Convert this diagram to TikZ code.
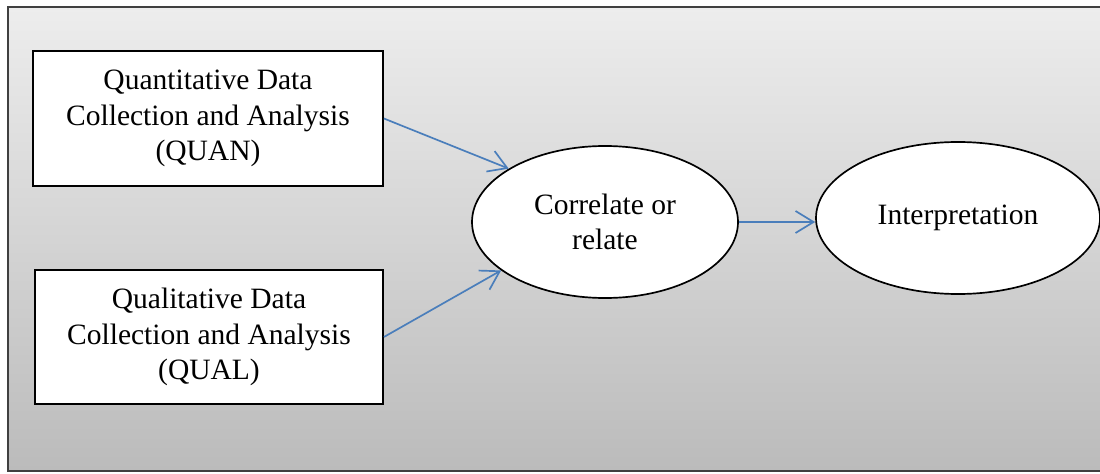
\documentclass[tikz,border=0pt]{standalone}
\usepackage{fontspec}
\setmainfont{Liberation Serif}
\usetikzlibrary{shapes.geometric,arrows.meta}

\definecolor{bgtop}{RGB}{237,237,237}
\definecolor{bgbot}{RGB}{187,187,187}
\definecolor{linkblue}{RGB}{74,126,187}

\begin{document}
\begin{tikzpicture}[
    box/.style={draw=black, line width=1.3pt, fill=white, rectangle, inner sep=0pt,
                align=center, font=\fontsize{21}{25}\selectfont},
    oval/.style={draw=black, line width=1.2pt, fill=white, ellipse, inner sep=0pt,
                 align=center, font=\fontsize{21}{25}\selectfont},
    link/.style={draw=linkblue, line width=1.2pt,
                 -{Straight Barb[length=0.45cm,width=0.55cm,line width=1.2pt]}}
]

    % Page size
    \useasboundingbox (0,0) rectangle (27.5,11.825);

    % Set background frame
    \shade[top color=bgtop, bottom color=bgbot] (0.2,0.06) rectangle (27.6,11.65);
    \draw[line width=1.4pt, black!75] (27.6,11.65) -- (0.2,11.65) -- (0.2,0.06) -- (27.6,0.06);

    % Two data boxes
    \node[box, minimum width=8.75cm, minimum height=3.375cm] (quan) at (5.2,8.8625)
        {Quantitative Data\\Collection and Analysis\\(QUAN)};
    \node[box, minimum width=8.7cm, minimum height=3.35cm] (qual) at (5.225,3.4)
        {Qualitative Data\\Collection and Analysis\\(QUAL)};

    % Ellipses
    \node[oval, minimum width=6.65cm, minimum height=3.8cm] (corr) at (15.125,6.275)
        {Correlate or\\relate};
    \node[oval, minimum width=7.1cm, minimum height=3.8cm] (interp) at (23.95,6.375)
        {Interpretation};

    % Arrows
    \draw[link] (quan.east) -- (corr.151);
    \draw[link] (qual.east) -- (corr.205);
    \draw[link] (corr.east) -- (interp.west |- corr.east);
\end{tikzpicture}
\end{document}
